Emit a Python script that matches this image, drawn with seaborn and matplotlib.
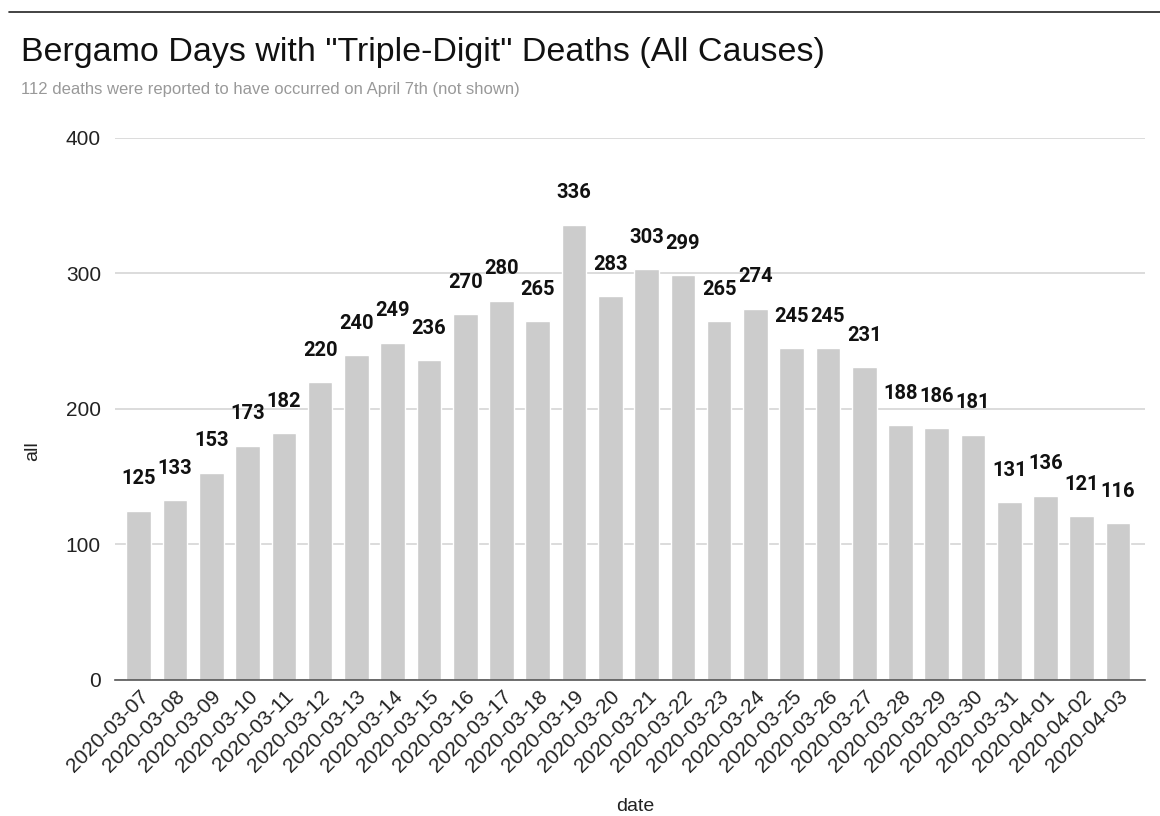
import matplotlib
matplotlib.use("Agg")
import matplotlib.pyplot as plt
import seaborn as sns
import pandas as pd
from matplotlib.lines import Line2D

dates = ["2020-03-07", "2020-03-08", "2020-03-09", "2020-03-10", "2020-03-11",
         "2020-03-12", "2020-03-13", "2020-03-14", "2020-03-15", "2020-03-16",
         "2020-03-17", "2020-03-18", "2020-03-19", "2020-03-20", "2020-03-21",
         "2020-03-22", "2020-03-23", "2020-03-24", "2020-03-25", "2020-03-26",
         "2020-03-27", "2020-03-28", "2020-03-29", "2020-03-30", "2020-03-31",
         "2020-04-01", "2020-04-02", "2020-04-03"]
deaths = [125, 133, 153, 173, 182, 220, 240, 249, 236, 270, 280, 265, 336, 283,
          303, 299, 265, 274, 245, 245, 231, 188, 186, 181, 131, 136, 121, 116]
yticks = [0, 100, 200, 300, 400]

sns.set_theme(style="white")
plt.rcParams['font.family'] = ['Liberation Sans', 'DejaVu Sans']

df = pd.DataFrame({"date": dates, "all": deaths})

fig = plt.figure(figsize=(11.6, 8.16), dpi=100)
ax = fig.add_axes([0.099, 0.1667, 0.888, 0.6643])

sns.barplot(data=df, x="date", y="all", color="#cccccc", width=0.68,
            saturation=1, ax=ax, zorder=3)

ax.set_ylim(0, 400)
ax.set_xlim(-0.66, len(dates) - 1 + 0.74)
ax.set_yticks(yticks)
ax.set_yticklabels([str(t) for t in yticks], fontsize=15, color="#222222")
ax.yaxis.grid(True, color="#d6d6d6", linewidth=1.2, zorder=0)
ax.xaxis.grid(False)
for s in ["top", "right", "left"]:
    ax.spines[s].set_visible(False)
ax.spines["bottom"].set_color("#555555")
ax.spines["bottom"].set_linewidth(1.2)
ax.spines["bottom"].set_zorder(4)
ax.tick_params(axis="y", length=0, pad=10)
ax.tick_params(axis="x", length=0, pad=5)
plt.setp(ax.get_xticklabels(), rotation=45, ha="right", rotation_mode="anchor",
         fontsize=15, color="#222222")

for i, v in enumerate(deaths):
    ax.annotate(str(v), (i, v), xytext=(0, 16), textcoords="offset points",
                ha="center", va="bottom", fontsize=14.5, fontweight="bold",
                color="#111111", family=["Roboto", "DejaVu Sans"])

ax.set_ylabel("")
ax.set_xlabel("")
fig.text(0.028, 0.447, "all", fontsize=14, color="#222222", rotation=90,
         ha="center", va="center")
fig.text(0.548, 0.012, "date", fontsize=14, color="#222222",
         ha="center", va="center")

fig.text(0.018, 0.936, 'Bergamo Days with "Triple-Digit" Deaths (All Causes)',
         fontsize=24.5, color="#111111", ha="left", va="center")
fig.text(0.018, 0.89, "112 deaths were reported to have occurred on April 7th (not shown)",
         fontsize=12, color="#999999", ha="left", va="center")
fig.add_artist(Line2D([0.008, 1.0], [0.985, 0.985], color="#222222", linewidth=1.2,
                      transform=fig.transFigure))

fig.savefig("out.png", dpi=100, facecolor="white")
